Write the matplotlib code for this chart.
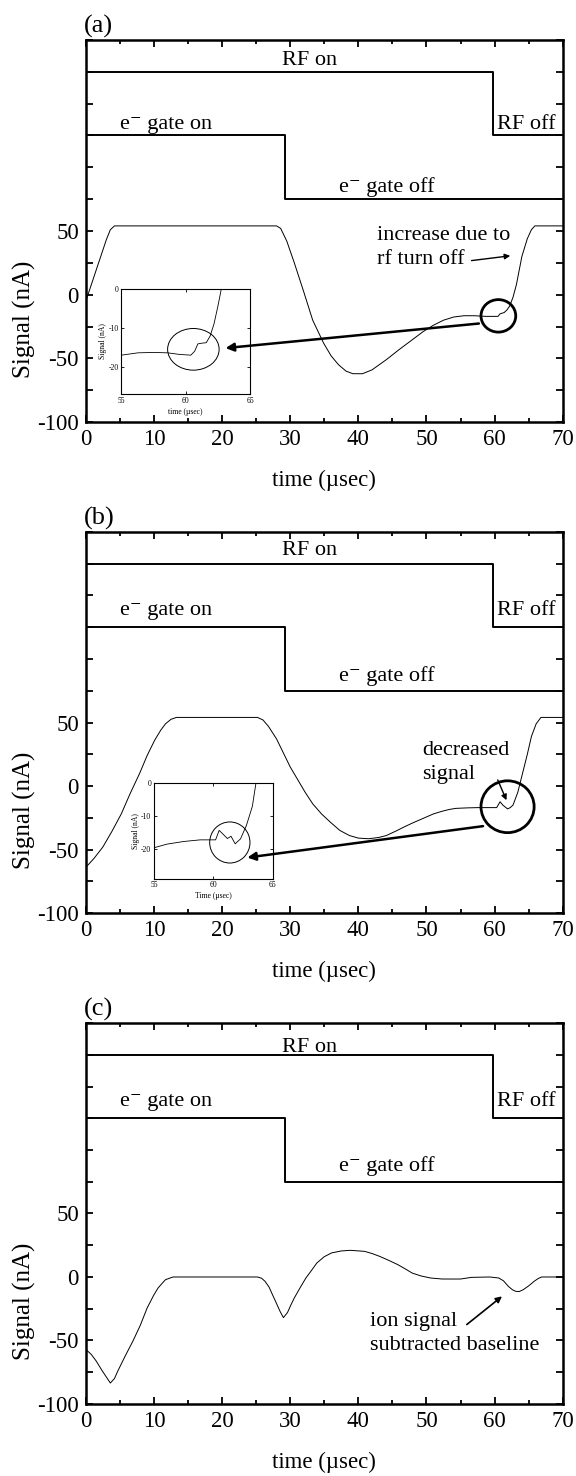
import numpy as np
import matplotlib
matplotlib.use("Agg")
import matplotlib.pyplot as plt
from matplotlib.patches import Ellipse
from matplotlib.ticker import FixedLocator, FixedFormatter, MultipleLocator

plt.rcParams['font.family'] = ['Liberation Serif', 'DejaVu Serif']
plt.rcParams['mathtext.fontset'] = 'stix'
plt.rcParams['axes.unicode_minus'] = False

# timing levels (RF on/off, e- gate on/off) in plot units
t_rf = [0, 59.7, 59.7, 70]
lvl_rf = [175, 175, 125, 125]
t_gate = [0, 29.3, 29.3, 70]
lvl_gate = [125, 125, 75, 75]

# panel (a) signal
t_a = [0, 1, 2, 3, 3.6, 4.2, 10, 20, 28.0, 28.6, 29.5, 30.6, 32, 33.3, 34.9, 36, 37.1,
       38.2, 39.2, 40.6, 42, 44.1, 46, 47.5, 49.5, 51, 52.5, 54, 55.5, 57, 58.7, 60.0,
       60.5, 60.8, 61.4, 61.8, 62.2, 62.7, 63.2, 64, 64.8, 65.4, 65.9, 66.4, 70]
y_a = [-5, 11, 27, 43, 51, 54, 54, 54, 54, 52, 42, 25, 2, -20, -38, -48, -55,
       -60, -62, -62, -59, -51, -43, -37, -29, -24, -20, -17.5, -16.5, -16.5, -17, -17,
       -17, -15, -14, -12, -9, -2, 8, 30, 44, 51, 54, 54, 54]
# inset (a)
t_ia = [55, 56.3, 57.5, 58.6, 59.5, 60.4, 60.7, 60.95, 61.3, 61.6, 61.9, 62.2, 62.5, 62.8]
y_ia = [-17, -16.4, -16.3, -16.4, -16.8, -17, -16, -14.1, -13.9, -13.8, -12.1, -9, -4.5, 0.5]

# panel (b) signal
t_b = [0, 1.2, 2.5, 3.8, 5.2, 6.5, 7.9, 9, 10.1, 11, 11.7, 12.5, 13.3, 20, 25.2, 26, 26.8,
       28, 29, 30, 31.1, 32.2, 33.3, 34.6, 36, 37.3, 38.7, 40, 41.5, 43, 44.1, 45.5, 46.8,
       48, 49.5, 51, 52.2, 53.3, 54.3, 56, 57.6, 59, 60.3, 60.8, 61.2, 61.9, 62.3, 62.7,
       63.4, 64.1, 64.8, 65.4, 66.1, 66.8, 70]
y_b = [-64, -57, -48, -36, -22, -6, 10, 24, 36, 44, 49, 52.5, 54, 54, 54, 52, 47,
       37, 26, 15, 5, -5, -14, -22, -29, -35, -39, -41, -41.5, -40.5, -39, -35.5, -32,
       -29, -25.5, -22, -20, -18.5, -17.6, -17.2, -17, -17, -17, -12.4, -15, -18, -17, -15,
       -5, 10, 25, 39, 49, 54, 54]
# inset (b)
t_ib = [55, 56.1, 57.5, 58.9, 60.2, 60.5, 61.2, 61.5, 61.85, 62.3, 62.8, 63.3, 63.6]
y_ib = [-19.6, -18.5, -17.7, -17.2, -17.2, -14.3, -16.8, -16.1, -18.4, -16.9, -12.8, -7, 0]

# panel (c) signal, baseline subtracted
t_c = [0, 0.8, 1.5, 2.3, 3.1, 3.6, 4.2, 4.7, 5.8, 6.9, 8, 9, 10, 10.6, 11.2, 11.7, 12.8,
       20, 25.2, 25.8, 26.3, 26.9, 27.4, 28, 28.5, 29.0, 29.6, 30.1, 30.6, 31.5, 32.3,
       33.1, 33.9, 35, 36.1, 37.5, 38.8, 40.9, 42, 43.1, 44.5, 45.8, 47, 47.9, 49.2,
       50.6, 52.3, 55, 56.6, 59.3, 60.6, 61.3, 62, 62.6, 63.1, 63.6, 64.2, 65, 65.8,
       66.4, 66.9, 70]
y_c = [-57, -61, -66, -73, -79.5, -83.5, -80, -74, -62, -50.6, -38, -24.4, -14, -8.7, -5,
       -2.1, 0, 0, 0, -1, -3.4, -8, -14, -21, -27, -32, -28, -22, -16.5, -8, -0.8,
       5, 11, 16, 19, 20.5, 21, 20.2, 18.5, 16.3, 13, 9.7, 6, 3.1, 0.8,
       -0.8, -1.6, -1.6, -0.3, 0, -0.8, -3, -7.3, -10, -11.3, -11.5, -10, -7, -3.4,
       -1.2, 0, 0]

ytick_vals = [-100, -50, 0, 50]

fig = plt.figure(figsize=(5.76, 14.76), dpi=100)
ax_a = fig.add_axes([0.149, 0.714, 0.828, 0.259])
ax_b = fig.add_axes([0.149, 0.3814, 0.828, 0.2582])
ax_c = fig.add_axes([0.149, 0.0488, 0.828, 0.2581])

EM = u'e\u207b'


def setup(ax, tag, y_on, y_mid, y_off):
    ax.set_xlim(0, 70)
    ax.set_ylim(-100, 200)
    ax.plot(t_rf, lvl_rf, color='k', lw=1.4)
    ax.plot(t_gate, lvl_gate, color='k', lw=1.4)
    ax.xaxis.set_major_locator(MultipleLocator(10))
    ax.xaxis.set_minor_locator(MultipleLocator(5))
    ax.yaxis.set_major_locator(FixedLocator(np.arange(-100, 201, 25)))
    ax.yaxis.set_major_formatter(FixedFormatter(
        [str(v) if v in ytick_vals else '' for v in np.arange(-100, 201, 25)]))
    ax.tick_params(which='both', direction='in', top=True, right=True,
                   labelsize=16.5, width=1.3, pad=5)
    ax.tick_params(which='major', length=5)
    ax.tick_params(which='minor', length=3)
    for s in ax.spines.values():
        s.set_linewidth(1.8)
    ax.set_xlabel(u'time (\u00b5sec)', fontsize=16.5, labelpad=14)
    ax.set_ylabel('Signal (nA)', fontsize=18)
    ax.yaxis.set_label_coords(-0.105, 0.27)
    ax.text(-0.005, 1.006, tag, transform=ax.transAxes, fontsize=19,
            ha='left', va='bottom')
    ax.text(32.8, y_on, 'RF on', fontsize=16, ha='center', va='bottom')
    ax.text(5.0, y_mid, EM + ' gate on', fontsize=16, ha='left', va='bottom')
    ax.text(60.3, y_mid, 'RF off', fontsize=16, ha='left', va='bottom')
    ax.text(37.1, y_off, EM + ' gate off', fontsize=16, ha='left', va='bottom')


def inset(ax, bounds, t, y, ylo, xlab):
    ins = ax.inset_axes(bounds, transform=ax.transData)
    ins.plot(t, y, color='k', lw=0.6)
    ins.set_xlim(55, 65)
    ins.set_ylim(ylo, 0)
    ins.set_xticks([55, 60, 65])
    ins.set_yticks([0, -10, -20])
    ins.tick_params(direction='in', labelsize=5.5, length=2, width=0.6, pad=2,
                    top=True, right=True)
    for s in ins.spines.values():
        s.set_linewidth(0.8)
    ins.set_xlabel(xlab, fontsize=5.5, labelpad=2)
    ins.set_ylabel('Signal (nA)', fontsize=5.5, labelpad=1)
    return ins


# panel (a)
setup(ax_a, '(a)', 176.5, 126.5, 76.5)
ax_a.plot(t_a, y_a, color='k', lw=0.7)
ins_a = inset(ax_a, [5.2, -78, 18.9, 82.5], t_ia, y_ia, -27, u'time (\u00b5sec)')
ins_a.add_patch(Ellipse((60.6, -15.5), 4.0, 10.7, fill=False, lw=0.7))
ax_a.add_patch(Ellipse((60.55, -16.6), 5.1, 25.5, fill=False, lw=2.0))
ax_a.annotate('', xy=(20.1, -42.1), xytext=(58.1, -22.4),
              arrowprops=dict(arrowstyle='-|>', lw=1.8, color='k', mutation_scale=12),
              zorder=6)
ax_a.text(42.7, 37, 'increase due to\nrf turn off', fontsize=16, ha='left',
          va='center', linespacing=1.35)
ax_a.annotate('', xy=(62.7, 30.8), xytext=(56.2, 26.5),
              arrowprops=dict(arrowstyle='-|>', lw=1.0, color='k', mutation_scale=8))

# panel (b)
setup(ax_b, '(b)', 178, 131, 79)
ax_b.plot(t_b, y_b, color='k', lw=0.7)
ins_b = inset(ax_b, [10.0, -72.9, 17.4, 75.0], t_ib, y_ib, -29, u'Time (\u00b5sec)')
ins_b.add_patch(Ellipse((61.4, -18.0), 3.4, 12.5, fill=False, lw=0.7))
ax_b.add_patch(Ellipse((61.9, -16.3), 7.8, 40.8, fill=False, lw=2.0))
ax_b.annotate('', xy=(23.3, -56.6), xytext=(58.7, -31.3),
              arrowprops=dict(arrowstyle='-|>', lw=1.8, color='k', mutation_scale=12),
              zorder=6)
ax_b.text(49.4, 18.5, 'decreased\nsignal', fontsize=16, ha='left', va='center',
          linespacing=1.3)
ax_b.annotate('', xy=(61.9, -13.2), xytext=(60.3, 6.8),
              arrowprops=dict(arrowstyle='-|>', lw=1.0, color='k', mutation_scale=8))

# panel (c)
setup(ax_c, '(c)', 173.5, 131, 79.5)
ax_c.plot(t_c, y_c, color='k', lw=0.7)
ax_c.text(41.7, -44.5, 'ion signal\nsubtracted baseline', fontsize=16, ha='left',
          va='center', linespacing=1.3)
ax_c.annotate('', xy=(61.4, -13.9), xytext=(55.6, -38.8),
              arrowprops=dict(arrowstyle='-|>', lw=1.2, color='k', mutation_scale=9))

fig.savefig('out.png', dpi=100)
